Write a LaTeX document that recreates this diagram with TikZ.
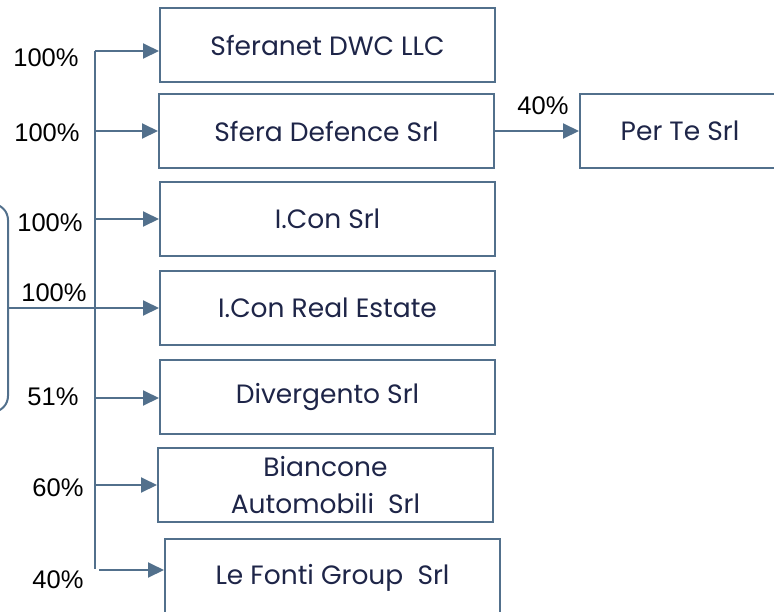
\documentclass[tikz,border=0pt]{standalone}
\usepackage{fontspec}
\usetikzlibrary{arrows.meta}
\newfontfamily\labfont{Liberation Sans}
\newfontfamily\boxfont{Poppins}
\definecolor{linec}{HTML}{52708C}
\definecolor{boxtext}{HTML}{1E2548}
\begin{document}
\begin{tikzpicture}[x=1pt,y=-1pt,
  conn/.style={draw=linec,line width=2pt},
  arr/.style={conn,-{Triangle[length=16pt,width=15pt]}},
  box/.style={draw=linec,line width=2pt,fill=white,minimum width=335pt,minimum height=74pt,
     inner sep=0pt,align=center,font=\boxfont\fontsize{26.5}{37}\selectfont,text=boxtext},
  pct/.style={font=\labfont\fontsize{25.5}{28}\selectfont,text=black,inner sep=0pt}]
\useasboundingbox (0,0) rectangle (774,611);
% group box on the left (partly off the page)
\node[draw=linec,line width=2pt,rounded corners=16pt,minimum width=120pt,minimum height=208pt] (grp) at (-52,308) {};
% boxes
\node[box] (b1) at (327.5,45) {Sferanet DWC LLC};
\node[box] (b2) at (326.5,131) {Sfera Defence Srl};
\node[box] (b3) at (327.5,218.5) {I.Con Srl};
\node[box] (b4) at (327.5,307.5) {I.Con Real Estate};
\node[box] (b5) at (327.5,397) {Divergento Srl};
\node[box] (b6) at (325.5,485) {Biancone\\Automobili~~Srl};
\node[box,minimum height=78pt] (b7) at (332.5,578) {Le Fonti Group~~Srl};
\node[box,minimum width=200pt] (b8) at (680,131) {Per Te Srl};
% trunk
\coordinate (t0) at (95,51);
\coordinate (t1) at (95,569);
\draw[conn] (t0) -- (t1);
\coordinate (j1) at (95,51);
\coordinate (j2) at (95,131);
\coordinate (j3) at (95,219);
\coordinate (j5) at (95,398);
\coordinate (j6) at (95,485);
\coordinate (j7) at (99,570);
\draw[arr] (j1) -- (j1 -| b1.west);
\draw[arr] (j2) -- (j2 -| b2.west);
\draw[arr] (j3) -- (j3 -| b3.west);
\draw[arr] (grp.east) -- (grp.east -| b4.west);
\draw[arr] (j5) -- (j5 -| b5.west);
\draw[arr] (j6) -- (j6 -| b6.west);
\draw[arr] (j7) -- (j7 -| b7.west);
\draw[arr] (b2.east) -- (b8.west);
% percentages
\node[pct] (p1) at (46,58) {100\%};
\node[pct] (p2) at (47,133) {100\%};
\node[pct] (p3) at (50,223) {100\%};
\node[pct] (p4) at (54,293) {100\%};
\node[pct] (p5) at (53,397) {51\%};
\node[pct] (p6) at (58,488) {60\%};
\node[pct] (p7) at (58,580) {40\%};
\node[pct] (p8) at (543,106) {40\%};
\end{tikzpicture}
\end{document}
